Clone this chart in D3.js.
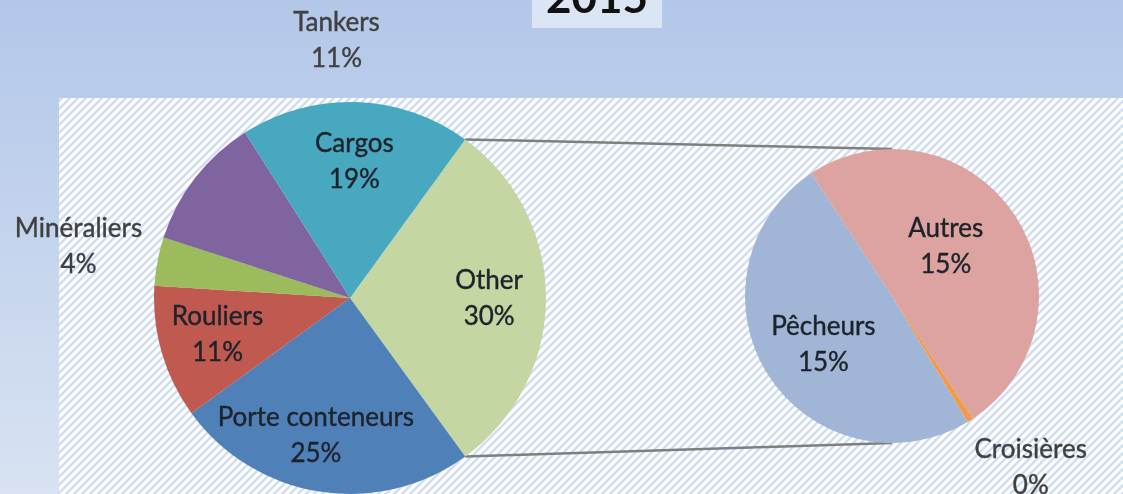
<!DOCTYPE html>
<html><head><meta charset="utf-8">
<script src="https://cdn.jsdelivr.net/npm/d3@7"></script>
<style>html,body{margin:0;padding:0;overflow:hidden;background:#fff}svg{display:block;filter:blur(0.6px)}</style>
</head><body>
<svg id="c" width="1123" height="494"></svg>
<script>
// ---- data ----
const title = "2015";
const mainCategories = ["Other", "Porte conteneurs", "Rouliers", "Minéraliers", "Tankers", "Cargos"];
const mainValues = [30, 25, 11, 4, 11, 19];
const subCategories = ["Autres", "Croisières", "Pêcheurs"];
const subValues = [15.0, 0.2, 14.8];

// ---- styles / layout ----
const mainColors = ["#c4d7a3", "#4f81b8", "#c05a50", "#9bbb5c", "#8064a0", "#48a8bf"];
const subColors = ["#dca3a0", "#f39a46", "#a1b6d7"];
const W = 1123, H = 494;
const main = {cx: 350, cy: 298, r: 196, start: 36};
const sub = {cx: 892, cy: 296, r: 147, start: -33.4};
// label placement: [angle override (deg) or null = slice middle, radius factor]
const mainLabelPlace = {"Other": [null, .71], "Porte conteneurs": [194, .72], "Rouliers": [255, .70],
  "Minéraliers": [null, 1.41], "Tankers": [357, 1.32], "Cargos": [null, .70]};
const subLabelPlace = {"Autres": [47, .50], "Croisières": [141, 1.50], "Pêcheurs": [235, .57]};
const outsideLabels = new Set(["Minéraliers", "Tankers", "Croisières"]);

const svg = d3.select("#c");
const defs = svg.append("defs");
const g1 = defs.append("linearGradient").attr("id", "bg").attr("x1", 0).attr("y1", 0).attr("x2", 0).attr("y2", 1);
g1.append("stop").attr("offset", "0%").attr("stop-color", "#b3c7e9");
g1.append("stop").attr("offset", "100%").attr("stop-color", "#d8e2f2");
const pat = defs.append("pattern").attr("id", "hatch").attr("patternUnits", "userSpaceOnUse")
  .attr("width", 8).attr("height", 8);
pat.append("rect").attr("width", 8).attr("height", 8).attr("fill", "#ffffff");
pat.append("path").attr("d", "M-2,2 L2,-2 M0,8 L8,0 M6,10 L10,6")
  .attr("stroke", "#cfdcf2").attr("stroke-width", 2.3);

svg.append("rect").attr("width", W).attr("height", H).attr("fill", "url(#bg)");
// title
svg.append("rect").attr("x", 532).attr("y", -10).attr("width", 130).attr("height", 38).attr("fill", "#dbe5f3");
svg.append("text").attr("x", 597).attr("y", 13).attr("text-anchor", "middle")
  .attr("font-family", "Lato, sans-serif").attr("font-weight", "bold").attr("font-size", 44)
  .attr("fill", "#111").text(title);
// plot area
svg.append("rect").attr("x", 59).attr("y", 98).attr("width", W - 59).attr("height", H - 98).attr("fill", "url(#hatch)");

const rad = d => d * Math.PI / 180;
const pieMain = d3.pie().sort(null).value(d => d.v).startAngle(rad(main.start)).endAngle(rad(main.start) + 2 * Math.PI);
const pieSub = d3.pie().sort(null).value(d => d.v).startAngle(rad(sub.start)).endAngle(rad(sub.start) + 2 * Math.PI);
const mainArcs = pieMain(mainCategories.map((c, i) => ({c, v: mainValues[i], col: mainColors[i]})));
const subArcs = pieSub(subCategories.map((c, i) => ({c, v: subValues[i], col: subColors[i]})));

// connector lines from split points of "Other" slice to top/bottom of secondary pie
const other = mainArcs[0];
const pt = (p, a, r) => [p.cx + r * Math.sin(a), p.cy - r * Math.cos(a)];
const [sx1, sy1] = pt(main, other.startAngle, main.r);
const [sx2, sy2] = pt(main, other.endAngle, main.r);
svg.append("line").attr("x1", sx1).attr("y1", sy1).attr("x2", sub.cx).attr("y2", sub.cy - sub.r)
  .attr("stroke", "#7f7f7f").attr("stroke-width", 2.5);
svg.append("line").attr("x1", sx2).attr("y1", sy2).attr("x2", sub.cx).attr("y2", sub.cy + sub.r)
  .attr("stroke", "#7f7f7f").attr("stroke-width", 2.5);

function drawPie(p, arcs, place) {
  const arc = d3.arc().innerRadius(0).outerRadius(p.r);
  const g = svg.append("g").attr("transform", `translate(${p.cx},${p.cy})`);
  g.selectAll("path").data(arcs).join("path").attr("d", arc).attr("fill", d => d.data.col);
  arcs.forEach(d => {
    const [ang, f] = place[d.data.c];
    const a = ang === null ? (d.startAngle + d.endAngle) / 2 : rad(ang);
    const x = p.r * f * Math.sin(a), y = -p.r * f * Math.cos(a);
    const out = outsideLabels.has(d.data.c);
    const col = out ? "#404040" : "#1e232b";
    const t = g.append("text").attr("text-anchor", "middle")
      .attr("font-family", "Lato, sans-serif").attr("font-size", 26)
      .attr("fill", col).attr("stroke", col).attr("stroke-width", 0.4);
    t.append("tspan").attr("x", x).attr("y", y - 9).text(d.data.c);
    t.append("tspan").attr("x", x).attr("y", y + 27).text(Math.round(d.value) + "%");
  });
}
drawPie(main, mainArcs, mainLabelPlace);
drawPie(sub, subArcs, subLabelPlace);
</script>
</body></html>
